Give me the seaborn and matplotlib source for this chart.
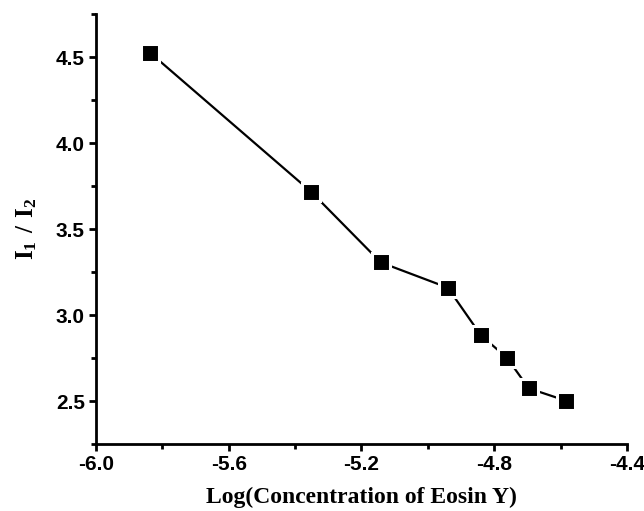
import numpy as np
import pandas as pd
import matplotlib
matplotlib.use('Agg')
import matplotlib.pyplot as plt
from matplotlib.ticker import MultipleLocator, FormatStrFormatter
import seaborn as sns

# data
log_conc = [-5.837, -5.352, -5.142, -4.940, -4.840, -4.762, -4.696, -4.584]
ratio = [4.525, 3.717, 3.306, 3.159, 2.882, 2.752, 2.574, 2.502]
x_ticks = [-6.0, -5.6, -5.2, -4.8, -4.4]
y_ticks = [2.5, 3.0, 3.5, 4.0, 4.5]

df = pd.DataFrame({'logc': log_conc, 'ratio': ratio})

sns.set_style('ticks', {'axes.edgecolor': 'black', 'text.color': 'black',
                        'xtick.color': 'black', 'ytick.color': 'black',
                        'axes.labelcolor': 'black'})
plt.rcParams['font.family'] = ['Liberation Sans', 'DejaVu Sans']
plt.rcParams['mathtext.fontset'] = 'custom'
plt.rcParams['mathtext.rm'] = 'Liberation Serif'
plt.rcParams['mathtext.bf'] = 'Liberation Serif:bold'

fig = plt.figure(figsize=(6.44, 5.11), dpi=100)
ax = fig.add_axes([0.149, 0.131, 0.8246, 0.8416])

sns.lineplot(data=df, x='logc', y='ratio', ax=ax, color='black', linewidth=1.6,
             marker='s', markersize=12.5, markerfacecolor='black',
             markeredgecolor='white', markeredgewidth=2.2)

ax.set_xlim(-6.0, -4.4)
ax.set_ylim(2.25, 4.75)
ax.set_xticks(x_ticks)
ax.set_yticks(y_ticks)
ax.xaxis.set_minor_locator(MultipleLocator(0.2))
ax.yaxis.set_minor_locator(MultipleLocator(0.25))
ax.xaxis.set_major_formatter(FormatStrFormatter('%.1f'))
ax.yaxis.set_major_formatter(FormatStrFormatter('%.1f'))

for s in ['top', 'right']:
    ax.spines[s].set_visible(False)
for s in ['left', 'bottom']:
    ax.spines[s].set_linewidth(2)

ax.tick_params(which='major', direction='out', length=5, width=2, labelsize=15, pad=3)
ax.tick_params(which='minor', direction='out', length=3.5, width=2)
for lab in ax.get_xticklabels() + ax.get_yticklabels():
    lab.set_fontweight('bold')

ax.set_xlabel('Log(Concentration of Eosin Y)', fontsize=17, fontweight='bold',
              family='Liberation Serif', labelpad=9)
ax.set_ylabel(r'$\mathbf{I_1\ /\ I_2}$', fontsize=18, labelpad=12)

fig.savefig('out.png', dpi=100)
